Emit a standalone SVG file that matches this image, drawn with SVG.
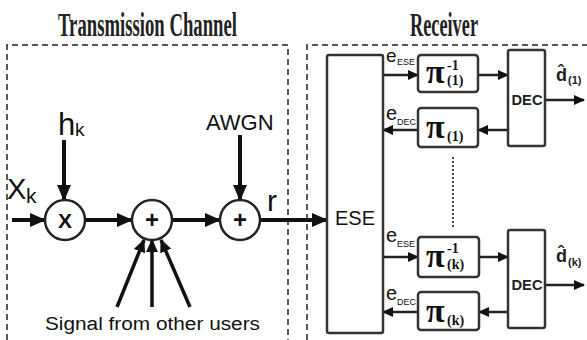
<svg xmlns="http://www.w3.org/2000/svg" width="587" height="340" viewBox="0 0 587 340">
<style>
.dash{fill:none;stroke:#222;stroke-width:1.5;stroke-dasharray:6,4}
.title{font-family:"Liberation Serif",serif;font-size:34px;font-weight:bold;fill:#222}
.sans{font-family:"Liberation Sans",Arial,sans-serif;fill:#111}
.circ{fill:#fff;stroke:#222;stroke-width:2.5}
.box{fill:#fff;stroke:#333;stroke-width:2.5}
.thick{stroke:#111;stroke-width:4;fill:none}
.mid{stroke:#111;stroke-width:3.5;fill:none}
.thin{stroke:#222;stroke-width:2.5;fill:none}
.pi{font-family:"Liberation Serif",serif;font-size:34px;font-weight:bold;fill:#111}
.piss{font-family:"Liberation Serif",serif;font-size:14px;font-weight:bold;fill:#111}
.dec{font-family:"Liberation Sans",Arial,sans-serif;font-size:15px;font-weight:bold;fill:#222}
.dh{font-family:"Liberation Sans",Arial,sans-serif;font-weight:bold;fill:#222}
</style>
<defs>
<marker id="big" markerUnits="userSpaceOnUse" markerWidth="16" markerHeight="14" refX="15" refY="7" orient="auto">
<path d="M0,0 L16,7 L0,14 z" fill="#111"/>
</marker>
<marker id="med" markerUnits="userSpaceOnUse" markerWidth="13" markerHeight="12" refX="12" refY="6" orient="auto">
<path d="M0,0 L13,6 L0,12 z" fill="#111"/>
</marker>
<marker id="sm" markerUnits="userSpaceOnUse" markerWidth="11" markerHeight="10" refX="10" refY="5" orient="auto">
<path d="M0,0 L11,5 L0,10 z" fill="#111"/>
</marker>
</defs>

<g id="titles">
<text class="title" x="58" y="36" textLength="179" lengthAdjust="spacingAndGlyphs">Transmission Channel</text>
<text class="title" x="410" y="36" textLength="68" lengthAdjust="spacingAndGlyphs">Receiver</text>
</g>

<g id="frames">
<path class="dash" d="M7,340 V45 H288 V340"/>
<path class="dash" d="M307,340 V45 H587"/>
</g>

<g id="connectors">
<line class="thick" x1="12" y1="220" x2="45" y2="220" marker-end="url(#big)"/>
<line class="thick" x1="85" y1="220" x2="132" y2="220" marker-end="url(#big)"/>
<line class="thick" x1="172" y1="220" x2="220" y2="220" marker-end="url(#big)"/>
<line class="thick" x1="260" y1="220" x2="327" y2="220" marker-end="url(#big)"/>
<line class="thick" x1="64" y1="140" x2="64" y2="200" marker-end="url(#big)"/>
<line class="thick" x1="240" y1="135" x2="240" y2="200" marker-end="url(#big)"/>
<line class="mid" x1="117" y1="307" x2="144" y2="240" marker-end="url(#med)"/>
<line class="mid" x1="152" y1="307" x2="152" y2="240" marker-end="url(#med)"/>
<line class="mid" x1="190" y1="307" x2="161" y2="240" marker-end="url(#med)"/>

<line class="thin" x1="383" y1="75" x2="418" y2="75" marker-end="url(#sm)"/>
<line class="thin" x1="478" y1="75" x2="508" y2="75" marker-end="url(#sm)"/>
<line class="thin" x1="508" y1="130" x2="478" y2="130" marker-end="url(#sm)"/>
<line class="thin" x1="418" y1="130" x2="383" y2="130" marker-end="url(#sm)"/>
<line class="thin" x1="545" y1="100" x2="584" y2="100" marker-end="url(#sm)"/>

<line class="thin" x1="383" y1="257" x2="418" y2="257" marker-end="url(#sm)"/>
<line class="thin" x1="479" y1="257" x2="508" y2="257" marker-end="url(#sm)"/>
<line class="thin" x1="508" y1="312" x2="479" y2="312" marker-end="url(#sm)"/>
<line class="thin" x1="418" y1="312" x2="383" y2="312" marker-end="url(#sm)"/>
<line class="thin" x1="545" y1="285" x2="584" y2="285" marker-end="url(#sm)"/>

<line x1="453" y1="157" x2="453" y2="227" stroke="#444" stroke-width="2" stroke-dasharray="2,2"/>
</g>

<g id="labels">
<text class="sans" x="7" y="199" font-size="29">X</text>
<text class="sans" x="26" y="203" font-size="21">k</text>
<text class="sans" x="58" y="135" font-size="31">h</text>
<text class="sans" x="75" y="136" font-size="19">k</text>
<text class="sans" x="206" y="130" font-size="22">AWGN</text>
<text class="sans" x="267" y="211" font-size="30">r</text>
<text class="sans" x="45" y="330" font-size="18" textLength="215" lengthAdjust="spacingAndGlyphs">Signal from other users</text>

<text class="sans" x="386" y="62" font-size="19">e</text>
<text class="sans" x="397" y="65" font-size="9">ESE</text>
<text class="sans" x="386" y="120" font-size="20">e</text>
<text class="sans" x="397" y="125" font-size="9">DEC</text>
<text class="sans" x="386" y="242" font-size="20">e</text>
<text class="sans" x="397" y="247" font-size="9">ESE</text>
<text class="sans" x="386" y="300" font-size="20">e</text>
<text class="sans" x="397" y="305" font-size="9">DEC</text>

<text class="dh" x="556" y="81" font-size="18">d̂</text>
<text class="dh" x="568" y="84" font-size="11">(1)</text>
<text class="dh" x="556" y="262" font-size="18">d̂</text>
<text class="dh" x="568" y="266" font-size="11">(k)</text>
</g>

<g id="mult">
<circle class="circ" cx="65" cy="220" r="20"/>
<text class="sans" x="65" y="228" font-size="21" font-weight="bold" text-anchor="middle">X</text>
</g>
<g id="sum1">
<circle class="circ" cx="152" cy="220" r="20"/>
<text class="sans" x="152" y="228" font-size="24" font-weight="bold" text-anchor="middle">+</text>
</g>
<g id="sum2">
<circle class="circ" cx="240" cy="220" r="20"/>
<text class="sans" x="240" y="228" font-size="24" font-weight="bold" text-anchor="middle">+</text>
</g>

<g id="ese">
<rect class="box" x="327" y="55" width="56" height="278" rx="2"/>
<text class="sans" x="355" y="225" font-size="20" text-anchor="middle">ESE</text>
</g>

<g id="deint1">
<rect class="box" x="418" y="55" width="60" height="37" rx="3"/>
<text class="pi" x="426" y="83">π</text>
<text class="piss" x="447" y="70">-1</text>
<text class="piss" x="447" y="85">(1)</text>
</g>
<g id="int1">
<rect class="box" x="418" y="108" width="60" height="39" rx="3"/>
<text class="pi" x="426" y="138">π</text>
<text class="piss" x="447" y="141">(1)</text>
</g>
<g id="dec1">
<rect class="box" x="508" y="50" width="37" height="96" rx="2"/>
<text class="dec" x="527" y="105" text-anchor="middle" textLength="31" lengthAdjust="spacingAndGlyphs">DEC</text>
</g>

<g id="deintk">
<rect class="box" x="418" y="237" width="61" height="40" rx="3"/>
<text class="pi" x="426" y="267">π</text>
<text class="piss" x="447" y="253">-1</text>
<text class="piss" x="447" y="269">(k)</text>
</g>
<g id="intk">
<rect class="box" x="418" y="292" width="61" height="38" rx="3"/>
<text class="pi" x="426" y="322">π</text>
<text class="piss" x="447" y="325">(k)</text>
</g>
<g id="deck">
<rect class="box" x="508" y="230" width="37" height="98" rx="2"/>
<text class="dec" x="527" y="290" text-anchor="middle" textLength="31" lengthAdjust="spacingAndGlyphs">DEC</text>
</g>
</svg>
